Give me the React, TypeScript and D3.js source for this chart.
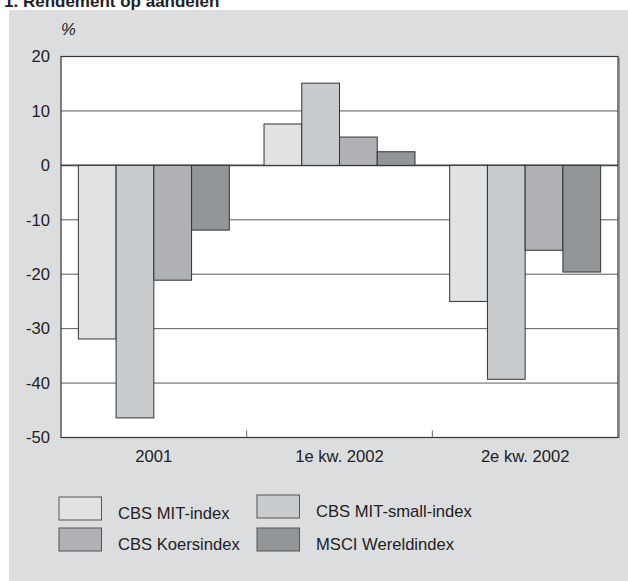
import React from 'react';
import * as d3 from 'd3';

const groups = ['2001', '1e kw. 2002', '2e kw. 2002'];
const series = ['CBS MIT-index', 'CBS MIT-small-index', 'CBS Koersindex', 'MSCI Wereldindex'];
const mitIndex = [-31.9, 7.6, -25.0];
const mitSmall = [-46.4, 15.1, -39.3];
const koersIndex = [-21.1, 5.2, -15.6];
const msciWereld = [-11.9, 2.5, -19.6];
const yTicks = [20, 10, 0, -10, -20, -30, -40, -50];
const colors = ['#e1e2e4', '#c8cbce', '#b0b1b4', '#939698'];

const values = [mitIndex, mitSmall, koersIndex, msciWereld];

const App = () => {
  const width = 628;
  const height = 581;
  const margin = { top: 56.5, right: 10, bottom: 143.5, left: 61 };
  const font = 'Liberation Sans, Arial, sans-serif';
  const fs = 16.6;

  const x0 = d3.scaleBand<string>()
    .domain(groups)
    .range([margin.left, width - margin.right]);

  const x1 = d3.scaleBand<string>()
    .domain(series)
    .range([0, x0.bandwidth()])
    .paddingInner(0)
    .paddingOuter(0.46);

  const y = d3.scaleLinear()
    .domain([-50, 20])
    .range([height - margin.bottom, margin.top]);

  const plotRight = width - margin.right;
  const plotBottom = y(-50);

  // legend layout
  const legend = [
    { name: series[0], col: 0, row: 0 },
    { name: series[1], col: 1, row: 0 },
    { name: series[2], col: 0, row: 1 },
    { name: series[3], col: 1, row: 1 },
  ];
  const legCols = [59, 257];
  const legRows = [497, 528];

  return (
    <svg
      width={width}
      height={height}
      style={{ position: 'absolute', top: 0, left: 0 }}
      fontFamily={font}
    >
      <rect x={0} y={0} width={width} height={height} fill="#ffffff" />
      <text x={4} y={7} fontSize={17} fontWeight="bold" fill="#222">1. Rendement op aandelen</text>
      <rect x={9} y={10} width={width - 9} height={height - 10} fill="#dcdddf" />

      <text x={61} y={35} fontSize={fs} fontStyle="italic" fill="#222">%</text>

      <rect
        x={margin.left}
        y={margin.top}
        width={plotRight - margin.left}
        height={plotBottom - margin.top}
        fill="#ffffff"
      />
      {/* right edge shadow */}
      <line x1={plotRight + 1.5} x2={plotRight + 1.5} y1={margin.top + 1} y2={plotBottom + 1} stroke="#9a9a9a" strokeWidth={1} />

      {yTicks.map(t => (
        <g key={t}>
          {t !== 20 && t !== -50 && (
            <line
              x1={margin.left}
              x2={plotRight}
              y1={y(t)}
              y2={y(t)}
              stroke={t === 0 ? '#444' : '#5a5a5a'}
              strokeWidth={t === 0 ? 1.6 : 1}
            />
          )}
          <text
            x={50}
            y={y(t)}
            dy="0.35em"
            textAnchor="end"
            fontSize={fs}
            fill="#222"
          >
            {t}
          </text>
        </g>
      ))}

      {groups.map((g, gi) => (
        <g key={g} transform={`translate(${x0(g)},0)`}>
          {series.map((s, si) => {
            const v = values[si][gi];
            const y0 = y(0);
            const yv = y(v);
            return (
              <rect
                key={s}
                x={x1(s)}
                y={Math.min(y0, yv)}
                width={x1.bandwidth()}
                height={Math.abs(yv - y0)}
                fill={colors[si]}
                stroke="#333"
                strokeWidth={1}
              />
            );
          })}
        </g>
      ))}

      <rect
        x={margin.left}
        y={margin.top}
        width={plotRight - margin.left}
        height={plotBottom - margin.top}
        fill="none"
        stroke="#333"
        strokeWidth={1.2}
      />

      {groups.slice(1).map(g => (
        <line
          key={g}
          x1={x0(g)}
          x2={x0(g)}
          y1={plotBottom}
          y2={plotBottom - 7}
          stroke="#666"
          strokeWidth={1}
        />
      ))}

      {groups.map(g => (
        <text
          key={g}
          x={(x0(g) as number) + x0.bandwidth() / 2}
          y={462}
          textAnchor="middle"
          fontSize={fs}
          fill="#222"
        >
          {g}
        </text>
      ))}

      {legend.map(d => (
        <g key={d.name}>
          <rect
            x={legCols[d.col]}
            y={legRows[d.row] - (d.col === 1 && d.row === 0 ? 2 : 0)}
            width={42.5}
            height={23}
            fill={colors[series.indexOf(d.name)]}
            stroke="#555"
            strokeWidth={1}
          />
          <text
            x={legCols[d.col] + 59}
            y={legRows[d.row] + 22 - (d.col === 1 && d.row === 0 ? 2 : 0)}
            fontSize={fs}
            fill="#222"
          >
            {d.name}
          </text>
        </g>
      ))}
    </svg>
  );
};

export default App;
